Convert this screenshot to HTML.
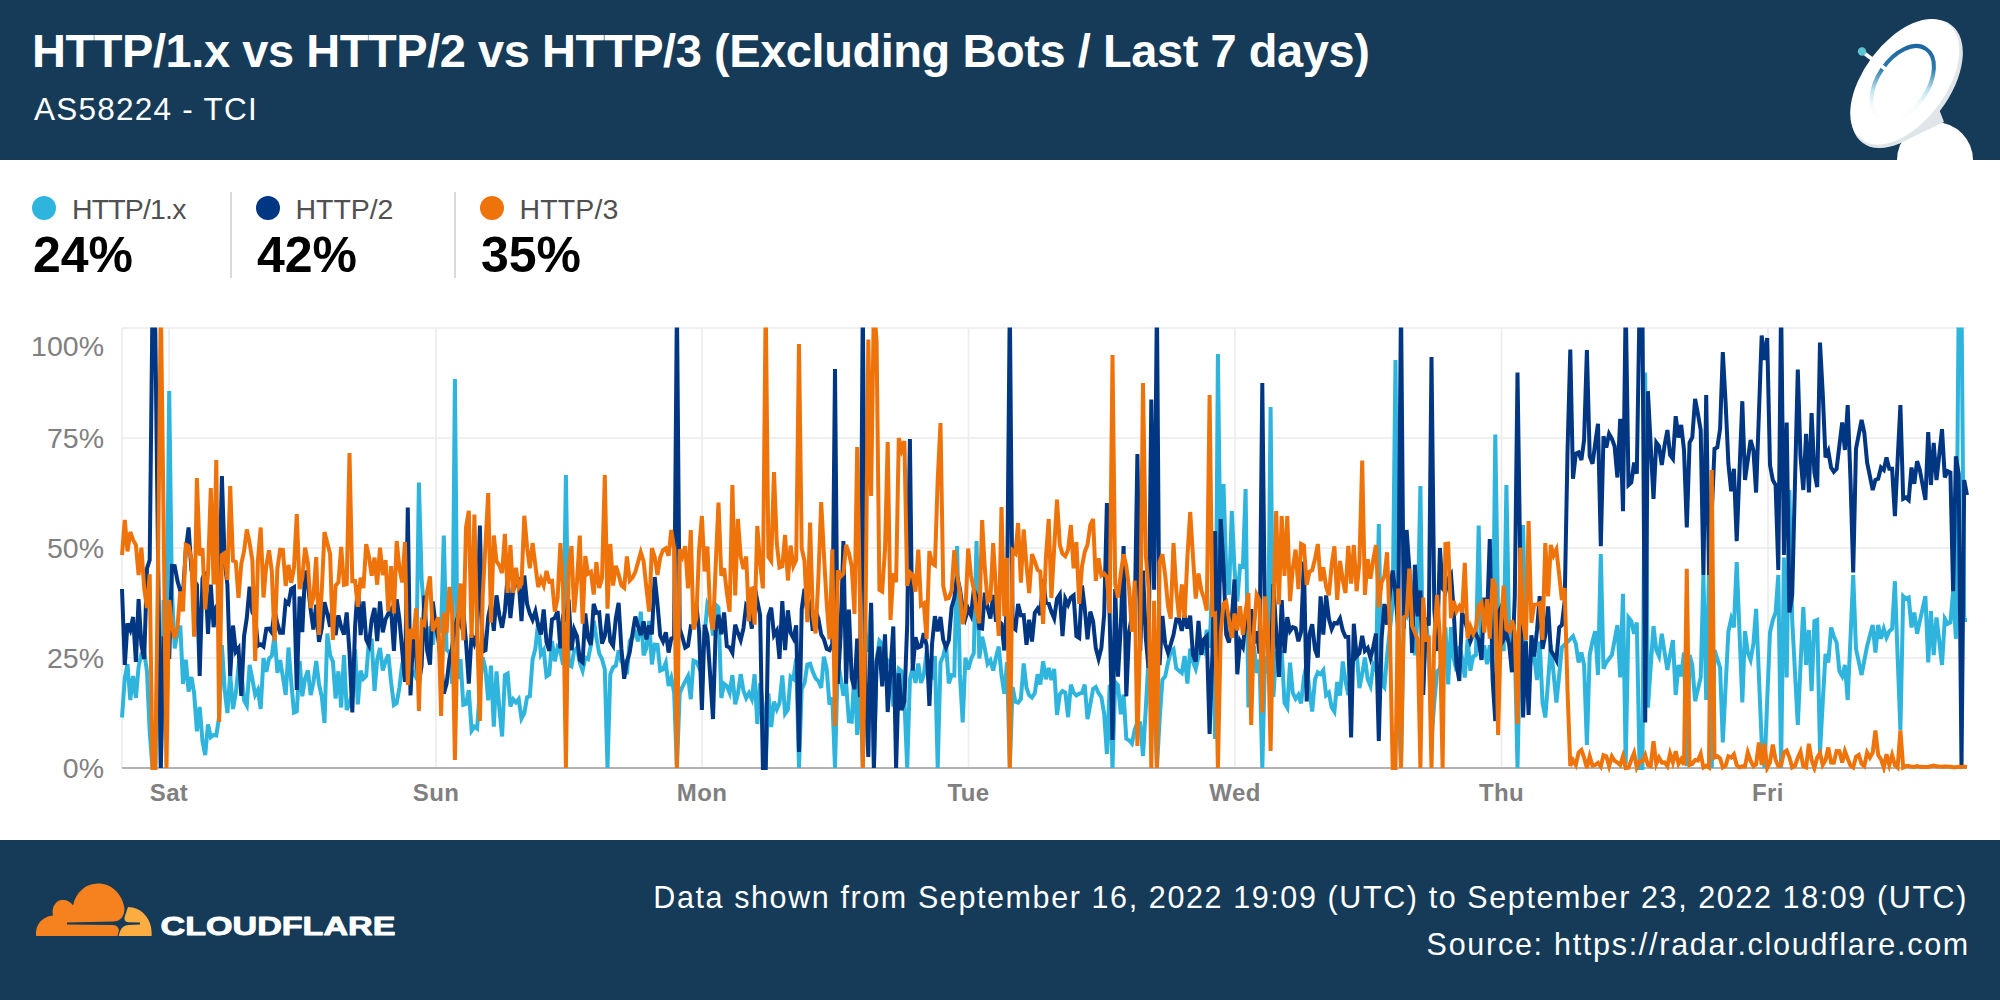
<!DOCTYPE html>
<html lang="en">
<head>
<meta charset="utf-8">
<title>HTTP/1.x vs HTTP/2 vs HTTP/3</title>
<style>
html,body{margin:0;padding:0;}
body{width:2000px;height:1000px;overflow:hidden;background:#fff;font-family:"Liberation Sans",sans-serif;position:relative;}
.abs{position:absolute;white-space:nowrap;line-height:1;}
#hdr{position:absolute;left:0;top:0;width:2000px;height:160px;background:#163b58;overflow:hidden;}
#ftr{position:absolute;left:0;top:840px;width:2000px;height:160px;background:#163b58;overflow:hidden;}
#title{left:32px;top:27px;font-size:47px;letter-spacing:-0.44px;font-weight:bold;color:#fff;transform-origin:0 0;}
#sub{left:34px;top:93.6px;font-size:31.5px;letter-spacing:1.25px;color:#fff;transform-origin:0 0;}
.lg{font-size:28.5px;color:#505050;letter-spacing:-0.85px;transform-origin:0 0;}
.val{font-size:50px;font-weight:bold;color:#000;transform-origin:0 0;}
.dot{position:absolute;width:24px;height:24px;border-radius:50%;}
.dv{position:absolute;width:2px;height:86px;top:192px;background:#d9d9d9;}
.yl{font-size:28.5px;color:#808080;text-align:right;width:90px;left:14px;}
.xl{font-size:24px;letter-spacing:0.4px;font-weight:bold;color:#808080;text-align:center;width:100px;}
.fr{color:#fff;font-size:30.5px;letter-spacing:1.6px;transform-origin:100% 0;right:33px;}
</style>
</head>
<body>
<div id="hdr">
<div id="title" class="abs">HTTP/1.x vs HTTP/2 vs HTTP/3 (Excluding Bots / Last 7 days)</div>
<div id="sub" class="abs">AS58224 - TCI</div>
<svg style="position:absolute;left:1800px;top:0" width="200" height="160" viewBox="1800 0 200 160">
<defs>
<linearGradient id="rg" x1="0" y1="0" x2="0" y2="1">
<stop offset="0" stop-color="#1f66a0"/><stop offset="0.3" stop-color="#2c7aad"/><stop offset="0.6" stop-color="#bfe6ee"/><stop offset="0.78" stop-color="#f4fbfc"/><stop offset="1" stop-color="#ffffff"/>
</linearGradient>
</defs>
<circle cx="1935" cy="160" r="38" fill="#fff"/>
<path d="M1898 144 L1944 122 L1939 109 L1920 128 Z" fill="#dfe5e8"/>
<path d="M1951.3 24.9 A73.7 42.6 -53 1 0 1862.5 142.7 A73.7 42.6 -53 1 0 1951.3 24.9 Z" fill="#dfe5e8"/>
<path d="M1948.1 24.3 A72 40 -53 1 0 1861.5 139.3 A72 40 -53 1 0 1948.1 24.3 Z" fill="#fff"/>
<line x1="1862" y1="51.5" x2="1886" y2="69.500" stroke="#fff" stroke-width="3.8"/>
<circle cx="1862" cy="51.5" r="4.2" fill="#5cc4d2"/>
<path d="M1925.9 48.9 A41.5 24.5 -56 1 0 1879.5 117.7 A41.5 24.5 -56 1 0 1925.9 48.9 Z" fill="none" stroke="url(#rg)" stroke-width="4"/>
<line x1="1880" y1="65" x2="1888.500" y2="71.300" stroke="#fff" stroke-width="3.8"/>
</svg>
</div>

<div class="dot" style="left:32px;top:196px;background:#2fb5dd"></div>
<div class="abs lg" id="l1" style="left:72px;top:195px">HTTP/1.x</div>
<div class="abs val" id="v1" style="left:33px;top:229.500px">24%</div>
<div class="dv" style="left:230px"></div>
<div class="dot" style="left:256px;top:196px;background:#003682"></div>
<div class="abs lg" id="l2" style="left:295.500px;top:195px;letter-spacing:-0.05px">HTTP/2</div>
<div class="abs val" id="v2" style="left:257px;top:229.500px">42%</div>
<div class="dv" style="left:454px"></div>
<div class="dot" style="left:480px;top:196px;background:#ee730a"></div>
<div class="abs lg" id="l3" style="left:519.500px;top:195px;letter-spacing:0.15px">HTTP/3</div>
<div class="abs val" id="v3" style="left:481px;top:229.500px">35%</div>

<div class="abs yl" style="top:332px">100%</div>
<div class="abs yl" style="top:424px">75%</div>
<div class="abs yl" style="top:534px">50%</div>
<div class="abs yl" style="top:644px">25%</div>
<div class="abs yl" style="top:754px">0%</div>

<div class="abs xl" style="left:119px;top:781px">Sat</div>
<div class="abs xl" style="left:386px;top:781px">Sun</div>
<div class="abs xl" style="left:652px;top:781px">Mon</div>
<div class="abs xl" style="left:918.5px;top:781px">Tue</div>
<div class="abs xl" style="left:1185px;top:781px">Wed</div>
<div class="abs xl" style="left:1451.5px;top:781px">Thu</div>
<div class="abs xl" style="left:1718px;top:781px">Fri</div>
<svg style="position:absolute;left:0;top:320px" width="2000" height="460" viewBox="0 320 2000 460">
<defs><clipPath id="cp"><rect x="120" y="327.5" width="1849" height="445.5"/></clipPath></defs>
<g stroke="#ececec" stroke-width="1.6" fill="none">
<path d="M122 328H1967M122 438H1967M122 548H1967M122 658H1967"/>
<path d="M122 328V768M169 328V768M436 328V768M702 328V768M968.5 328V768M1235 328V768M1501.5 328V768M1768 328V768"/>
</g>
<path d="M122 768H1967" stroke="#b3b3b3" stroke-width="2"/>
<g clip-path="url(#cp)" fill="none" stroke-width="4" stroke-linejoin="miter" stroke-miterlimit="4">
<path stroke="#2fb5dd" d="M122.0 717.5L124.8 678.0L127.5 664.1L130.3 700.0L133.1 676.1L135.9 697.9L138.6 666.7L141.4 653.8L144.2 652.0L147.0 671.5L149.7 731.8L152.5 768.0L155.3 768.0L158.1 615.2L160.8 768.0L163.6 600.0L166.4 660.8L169.2 391.0L171.9 591.0L174.7 648.5L177.5 632.4L180.3 625.7L183.0 684.0L185.8 659.6L188.6 691.6L191.4 677.0L194.1 692.8L196.9 731.3L199.7 707.0L202.5 741.5L205.2 755.0L208.0 724.4L210.8 737.2L213.6 735.0L216.3 735.5L219.1 717.0L221.9 645.1L224.7 690.0L227.4 713.0L230.2 674.5L233.0 709.0L235.8 692.9L238.5 666.9L241.3 672.0L244.1 700.4L246.8 705.4L249.6 665.0L252.4 679.4L255.2 695.0L257.9 689.9L260.7 709.0L263.5 658.1L266.3 671.9L269.0 658.8L271.8 655.8L274.6 635.0L277.4 672.9L280.1 660.2L282.9 677.0L285.7 695.0L288.5 647.5L291.2 681.9L294.0 712.5L296.8 711.3L299.6 661.0L302.3 696.3L305.1 678.4L307.9 670.4L310.7 695.0L313.4 682.6L316.2 661.0L319.0 684.1L321.8 696.8L324.5 723.0L327.3 633.6L330.1 655.0L332.9 661.6L335.6 698.5L338.4 671.3L341.2 707.5L344.0 655.0L346.7 710.0L349.5 702.6L352.3 694.5L355.1 649.0L357.8 704.3L360.6 670.7L363.4 678.8L366.2 675.9L368.9 641.0L371.7 640.6L374.5 691.0L377.2 659.5L380.0 647.9L382.8 670.4L385.6 661.0L388.3 654.4L391.1 682.4L393.9 705.0L396.7 703.0L399.4 687.5L402.2 664.3L405.0 655.0L407.8 663.8L410.5 669.8L413.3 672.4L416.1 677.4L418.9 482.5L421.6 578.8L424.4 613.7L427.2 650.5L430.0 626.4L432.7 644.7L435.5 622.7L438.3 629.2L441.1 631.0L443.8 535.5L446.6 649.8L449.4 652.2L452.2 683.7L454.9 379.0L457.7 679.0L460.5 659.2L463.3 704.8L466.0 703.9L468.8 690.2L471.6 730.7L474.4 726.6L477.1 728.6L479.9 689.5L482.7 657.2L485.5 669.2L488.2 700.3L491.0 665.6L493.8 726.7L496.5 671.4L499.3 708.1L502.1 736.5L504.9 675.1L507.6 673.5L510.4 706.4L513.2 699.3L516.0 702.4L518.7 699.1L521.5 718.6L524.3 713.2L527.1 697.2L529.8 696.3L532.6 659.4L535.4 648.5L538.2 622.1L540.9 654.5L543.7 650.0L546.5 676.5L549.3 674.5L552.0 640.9L554.8 661.3L557.6 647.5L560.4 651.4L563.1 664.8L565.9 475.0L568.7 664.8L571.5 666.4L574.2 650.5L577.0 647.8L579.8 662.8L582.6 670.8L585.3 657.6L588.1 659.2L590.9 645.2L593.7 620.9L596.4 637.9L599.2 653.4L602.0 659.1L604.8 669.2L607.5 768.0L610.3 674.4L613.1 667.2L615.8 665.7L618.6 650.4L621.4 661.2L624.2 661.3L626.9 674.4L629.7 641.1L632.5 636.6L635.3 632.5L638.0 641.4L640.8 611.6L643.6 655.4L646.4 648.2L649.1 621.0L651.9 664.4L654.7 644.6L657.5 644.9L660.2 670.6L663.0 669.5L665.8 662.7L668.6 685.9L671.3 677.8L674.1 692.4L676.9 768.0L679.7 693.1L682.4 686.8L685.2 681.4L688.0 676.1L690.8 699.2L693.5 660.6L696.3 661.7L699.1 667.6L701.9 663.5L704.6 634.4L707.4 604.1L710.2 609.5L713.0 635.6L715.7 604.8L718.5 607.7L721.3 698.0L724.1 683.8L726.8 686.0L729.6 692.9L732.4 675.1L735.2 704.2L737.9 693.8L740.7 674.2L743.5 691.0L746.2 698.1L749.0 692.9L751.8 699.0L754.6 674.3L757.3 724.0L760.1 683.5L762.9 707.2L765.7 768.0L768.4 693.3L771.2 727.1L774.0 701.8L776.8 709.4L779.5 703.1L782.3 675.5L785.1 713.7L787.9 709.7L790.6 676.7L793.4 679.0L796.2 658.4L799.0 768.0L801.7 689.2L804.5 683.2L807.3 664.6L810.1 663.8L812.8 671.9L815.6 678.3L818.4 681.1L821.2 687.9L823.9 656.6L826.7 669.1L829.5 704.5L832.3 697.6L835.0 768.0L837.8 661.3L840.6 677.2L843.4 695.8L846.1 683.4L848.9 721.2L851.7 721.7L854.5 671.2L857.2 735.0L860.0 673.3L862.8 768.0L865.5 634.6L868.3 651.7L871.1 605.1L873.9 768.0L876.6 659.2L879.4 640.7L882.2 643.8L885.0 675.1L887.7 660.5L890.5 662.6L893.3 706.5L896.1 690.6L898.8 668.9L901.6 671.3L904.4 700.9L907.2 768.0L909.9 679.6L912.7 667.6L915.5 682.9L918.3 663.5L921.0 682.9L923.8 674.8L926.6 652.6L929.4 673.3L932.1 676.1L934.9 656.0L937.7 768.0L940.5 662.4L943.2 656.2L946.0 643.8L948.8 683.4L951.6 675.2L954.3 675.5L957.1 546.0L959.9 673.9L962.7 722.5L965.4 657.8L968.2 669.6L971.0 659.3L973.8 653.1L976.5 541.0L979.3 658.4L982.1 636.7L984.8 648.4L987.6 664.0L990.4 660.3L993.2 670.6L995.9 657.6L998.7 646.6L1001.5 675.1L1004.3 693.7L1007.0 662.1L1009.8 768.0L1012.6 687.1L1015.4 701.8L1018.1 702.7L1020.9 699.0L1023.7 663.5L1026.5 687.7L1029.2 695.3L1032.0 697.6L1034.8 693.1L1037.6 674.2L1040.3 684.6L1043.1 661.4L1045.9 679.2L1048.7 667.9L1051.4 680.0L1054.2 668.9L1057.0 715.0L1059.8 694.4L1062.5 691.1L1065.3 692.5L1068.1 717.2L1070.9 684.7L1073.6 692.7L1076.4 695.4L1079.2 693.7L1082.0 692.9L1084.7 684.6L1087.5 719.2L1090.3 704.5L1093.1 689.0L1095.8 687.0L1098.6 693.2L1101.4 697.2L1104.2 714.3L1106.9 754.0L1109.7 684.9L1112.5 768.0L1115.2 681.9L1118.0 685.2L1120.8 714.3L1123.6 694.6L1126.3 738.7L1129.1 740.3L1131.9 743.6L1134.7 729.5L1137.4 722.6L1140.2 723.2L1143.0 756.0L1145.8 708.4L1148.5 659.0L1151.3 691.5L1154.1 681.9L1156.9 768.0L1159.6 720.0L1162.4 679.8L1165.2 676.3L1168.0 662.7L1170.7 651.6L1173.5 649.2L1176.3 668.5L1179.1 670.7L1181.8 673.0L1184.6 656.0L1187.4 683.5L1190.2 648.6L1192.9 661.8L1195.7 669.0L1198.5 656.4L1201.3 644.4L1204.0 650.2L1206.8 629.8L1209.6 647.8L1212.4 577.5L1215.1 739.0L1217.9 354.0L1220.7 581.6L1223.5 484.0L1226.2 569.2L1229.0 594.7L1231.8 511.0L1234.5 569.5L1237.3 601.3L1240.1 565.9L1242.9 566.5L1245.6 489.0L1248.4 707.4L1251.2 672.8L1254.0 646.5L1256.7 673.0L1259.5 659.6L1262.3 768.0L1265.1 656.3L1267.8 673.1L1270.6 407.0L1273.4 697.0L1276.2 651.5L1278.9 661.9L1281.7 650.6L1284.5 702.9L1287.3 707.6L1290.0 662.7L1292.8 692.9L1295.6 698.8L1298.4 694.8L1301.1 703.4L1303.9 677.2L1306.7 663.9L1309.5 691.6L1312.2 711.6L1315.0 679.5L1317.8 672.3L1320.6 674.2L1323.3 670.4L1326.1 695.3L1328.9 692.6L1331.7 707.4L1334.4 711.6L1337.2 682.0L1340.0 695.7L1342.8 661.4L1345.5 681.0L1348.3 695.0L1351.1 677.3L1353.8 653.5L1356.6 650.6L1359.4 688.0L1362.2 674.0L1364.9 657.6L1367.7 679.2L1370.5 685.9L1373.3 665.2L1376.0 671.2L1378.8 524.0L1381.6 683.7L1384.4 687.3L1387.1 655.2L1389.9 629.4L1392.7 603.9L1395.5 360.0L1398.2 693.1L1401.0 768.0L1403.8 610.1L1406.6 615.5L1409.3 603.5L1412.1 637.4L1414.9 655.3L1417.7 615.7L1420.4 486.0L1423.2 687.5L1426.0 621.5L1428.8 646.1L1431.5 739.0L1434.3 702.5L1437.1 671.5L1439.9 668.7L1442.6 649.3L1445.4 627.4L1448.2 684.4L1451.0 627.2L1453.7 658.2L1456.5 671.2L1459.3 646.2L1462.1 657.9L1464.8 677.6L1467.6 639.3L1470.4 670.7L1473.2 656.4L1475.9 655.1L1478.7 525.5L1481.5 659.1L1484.2 645.4L1487.0 664.3L1489.8 645.2L1492.6 670.0L1495.3 434.5L1498.1 616.4L1500.9 640.2L1503.7 651.0L1506.4 485.0L1509.2 636.0L1512.0 671.6L1514.8 644.2L1517.5 768.0L1520.3 637.6L1523.1 525.0L1525.9 663.1L1528.6 674.0L1531.4 657.7L1534.2 657.1L1537.0 680.0L1539.7 641.6L1542.5 702.4L1545.3 717.5L1548.1 681.2L1550.8 645.0L1553.6 673.8L1556.4 702.5L1559.2 675.0L1561.9 647.5L1564.7 644.7L1567.5 641.9L1570.3 639.1L1573.0 636.2L1575.8 643.8L1578.6 662.5L1581.4 652.5L1584.1 665.0L1586.9 745.0L1589.7 655.0L1592.5 641.2L1595.2 631.2L1598.0 675.0L1600.8 554.0L1603.5 668.8L1606.3 662.5L1609.1 658.8L1611.9 655.0L1614.6 640.0L1617.4 625.0L1620.2 677.5L1623.0 593.8L1625.7 763.8L1628.5 617.5L1631.3 621.2L1634.1 633.8L1636.8 622.5L1639.6 768.0L1642.4 768.0L1645.2 372.5L1647.9 707.5L1650.7 666.9L1653.5 626.2L1656.3 650.0L1659.0 656.2L1661.8 633.8L1664.6 652.5L1667.4 670.0L1670.1 655.0L1672.9 640.0L1675.7 695.0L1678.5 665.0L1681.2 676.2L1684.0 652.5L1686.8 766.2L1689.6 655.0L1692.3 665.0L1695.1 701.2L1697.9 689.4L1700.7 677.5L1703.4 575.0L1706.2 700.0L1709.0 570.0L1711.8 768.0L1714.5 650.0L1717.3 658.8L1720.1 667.5L1722.8 742.5L1725.6 686.9L1728.4 631.2L1731.2 618.8L1733.9 627.5L1736.7 562.0L1739.5 632.2L1742.3 702.5L1745.0 631.2L1747.8 652.5L1750.6 660.0L1753.4 643.8L1756.1 608.8L1758.9 675.6L1761.7 742.5L1764.5 768.0L1767.2 700.2L1770.0 632.5L1772.8 620.0L1775.6 612.5L1778.3 575.0L1781.1 768.0L1783.9 557.5L1786.7 677.5L1789.4 490.0L1792.2 620.0L1795.0 672.5L1797.8 725.0L1800.5 666.0L1803.3 607.0L1806.1 665.0L1808.9 630.0L1811.6 691.2L1814.4 621.2L1817.2 620.0L1820.0 752.5L1822.7 703.1L1825.5 653.8L1828.3 662.5L1831.1 627.5L1833.8 636.2L1836.6 642.5L1839.4 671.2L1842.2 676.2L1844.9 665.0L1847.7 700.0L1850.5 637.5L1853.2 575.0L1856.0 648.8L1858.8 661.9L1861.6 675.0L1864.3 660.6L1867.1 646.2L1869.9 635.6L1872.7 625.0L1875.4 652.5L1878.2 625.0L1881.0 638.8L1883.8 628.8L1886.5 637.5L1889.3 631.2L1892.1 628.8L1894.9 581.2L1897.6 655.6L1900.4 730.0L1903.2 596.2L1906.0 598.8L1908.7 597.5L1911.5 627.5L1914.3 612.5L1917.1 633.8L1919.8 621.2L1922.6 608.8L1925.4 596.2L1928.2 662.5L1930.9 611.2L1933.7 655.0L1936.5 617.5L1939.3 641.2L1942.0 665.0L1944.8 618.8L1947.6 623.8L1950.4 622.5L1953.1 591.2L1955.9 638.8L1958.7 301.6L1961.5 301.6L1964.2 620.0L1967.0 620.0"/>
<path stroke="#003682" d="M122.0 589.0L124.8 665.0L127.5 623.5L130.3 630.0L133.1 617.0L135.9 662.0L138.6 599.0L141.4 645.1L144.2 659.0L147.0 568.3L149.7 560.0L152.5 301.6L155.3 330.0L158.1 560.0L160.8 768.0L163.6 640.0L166.4 642.4L169.2 659.0L171.9 565.9L174.7 566.2L177.5 581.0L180.3 591.1L183.0 594.1L185.8 550.0L188.6 527.5L191.4 569.9L194.1 580.2L196.9 584.9L199.7 676.0L202.5 578.4L205.2 571.8L208.0 633.8L210.8 584.6L213.6 627.2L216.3 607.0L219.1 602.2L221.9 476.0L224.7 562.1L227.4 584.7L230.2 676.0L233.0 625.5L235.8 651.7L238.5 648.1L241.3 696.0L244.1 636.0L246.8 617.9L249.6 586.8L252.4 612.3L255.2 617.0L257.9 645.8L260.7 644.3L263.5 646.6L266.3 628.8L269.0 628.6L271.8 632.5L274.6 610.6L277.4 623.9L280.1 632.7L282.9 632.8L285.7 601.3L288.5 603.7L291.2 588.9L294.0 587.2L296.8 690.0L299.6 596.5L302.3 632.1L305.1 570.7L307.9 583.8L310.7 610.1L313.4 629.5L316.2 604.7L319.0 641.8L321.8 628.0L324.5 602.2L327.3 613.6L330.1 626.8L332.9 602.7L335.6 635.2L338.4 615.4L341.2 627.2L344.0 634.5L346.7 612.4L349.5 652.5L352.3 712.5L355.1 626.3L357.8 585.2L360.6 635.2L363.4 601.5L366.2 639.7L368.9 645.2L371.7 619.6L374.5 608.0L377.2 641.1L380.0 601.5L382.8 632.3L385.6 619.2L388.3 613.6L391.1 609.4L393.9 650.9L396.7 599.3L399.4 619.0L402.2 650.5L405.0 681.9L407.8 507.5L410.5 695.4L413.3 632.0L416.1 654.7L418.9 682.9L421.6 665.9L424.4 595.6L427.2 650.7L430.0 664.6L432.7 601.6L435.5 623.8L438.3 639.0L441.1 661.2L443.8 693.7L446.6 683.7L449.4 659.3L452.2 647.5L454.9 626.7L457.7 617.5L460.5 624.2L463.3 610.6L466.0 641.9L468.8 683.6L471.6 634.1L474.4 643.4L477.1 634.4L479.9 525.5L482.7 651.6L485.5 650.3L488.2 617.0L491.0 603.5L493.8 630.8L496.5 595.4L499.3 615.4L502.1 627.8L504.9 610.7L507.6 576.7L510.4 618.1L513.2 590.0L516.0 583.5L518.7 580.8L521.5 621.1L524.3 575.5L527.1 604.1L529.8 613.5L532.6 619.8L535.4 611.4L538.2 625.7L540.9 634.5L543.7 609.4L546.5 642.0L549.3 650.9L552.0 619.6L554.8 618.1L557.6 611.1L560.4 648.3L563.1 614.3L565.9 621.4L568.7 599.7L571.5 650.3L574.2 629.6L577.0 636.3L579.8 659.9L582.6 662.3L585.3 613.4L588.1 638.0L590.9 644.9L593.7 603.8L596.4 612.9L599.2 612.4L602.0 643.5L604.8 636.0L607.5 613.8L610.3 641.3L613.1 645.7L615.8 618.5L618.6 602.9L621.4 648.9L624.2 678.8L626.9 661.7L629.7 652.3L632.5 633.9L635.3 616.6L638.0 626.1L640.8 635.2L643.6 621.4L646.4 639.5L649.1 625.3L651.9 634.3L654.7 577.0L657.5 603.9L660.2 635.5L663.0 641.5L665.8 632.3L668.6 652.6L671.3 638.6L674.1 637.3L676.9 301.6L679.7 628.9L682.4 637.3L685.2 647.7L688.0 645.9L690.8 626.3L693.5 626.9L696.3 603.3L699.1 631.9L701.9 710.0L704.6 624.7L707.4 635.3L710.2 675.5L713.0 719.0L715.7 630.0L718.5 614.9L721.3 634.2L724.1 612.5L726.8 646.1L729.6 647.5L732.4 652.7L735.2 624.6L737.9 632.8L740.7 640.1L743.5 628.1L746.2 605.0L749.0 607.9L751.8 628.7L754.6 586.5L757.3 600.7L760.1 614.9L762.9 768.0L765.7 768.0L768.4 616.2L771.2 607.6L774.0 635.2L776.8 630.7L779.5 658.9L782.3 601.1L785.1 650.2L787.9 610.3L790.6 633.0L793.4 638.2L796.2 625.3L799.0 752.0L801.7 609.5L804.5 588.8L807.3 611.8L810.1 605.3L812.8 630.8L815.6 610.7L818.4 618.8L821.2 634.6L823.9 639.1L826.7 648.9L829.5 650.1L832.3 644.2L835.0 369.0L837.8 683.9L840.6 636.0L843.4 541.0L846.1 683.6L848.9 609.6L851.7 678.0L854.5 689.2L857.2 638.5L860.0 697.1L862.8 301.6L865.5 682.2L868.3 757.0L871.1 602.9L873.9 768.0L876.6 661.7L879.4 646.6L882.2 686.3L885.0 634.3L887.7 712.0L890.5 670.4L893.3 626.5L896.1 768.0L898.8 673.3L901.6 710.0L904.4 701.7L907.2 624.1L909.9 439.0L912.7 670.6L915.5 637.2L918.3 647.5L921.0 646.3L923.8 633.1L926.6 645.4L929.4 706.0L932.1 643.3L934.9 616.2L937.7 631.3L940.5 616.9L943.2 639.7L946.0 647.6L948.8 640.4L951.6 607.3L954.3 598.1L957.1 576.5L959.9 588.8L962.7 608.3L965.4 618.3L968.2 608.8L971.0 615.2L973.8 589.7L976.5 596.2L979.3 628.1L982.1 628.6L984.8 592.7L987.6 607.7L990.4 618.6L993.2 594.9L995.9 620.1L998.7 620.7L1001.5 623.9L1004.3 650.5L1007.0 603.7L1009.8 301.6L1012.6 627.3L1015.4 629.5L1018.1 604.0L1020.9 615.4L1023.7 615.1L1026.5 644.7L1029.2 619.8L1032.0 641.6L1034.8 612.6L1037.6 608.6L1040.3 615.0L1043.1 579.5L1045.9 602.5L1048.7 603.6L1051.4 611.7L1054.2 618.3L1057.0 598.7L1059.8 594.4L1062.5 636.0L1065.3 598.9L1068.1 604.7L1070.9 597.4L1073.6 595.4L1076.4 636.1L1079.2 637.9L1082.0 585.6L1084.7 607.9L1087.5 639.4L1090.3 611.6L1093.1 621.3L1095.8 648.2L1098.6 658.7L1101.4 647.7L1104.2 613.8L1106.9 503.0L1109.7 618.3L1112.5 740.0L1115.2 589.0L1118.0 676.6L1120.8 626.2L1123.6 546.0L1126.3 696.4L1129.1 631.9L1131.9 615.9L1134.7 619.0L1137.4 454.0L1140.2 651.1L1143.0 570.6L1145.8 637.8L1148.5 667.8L1151.3 399.5L1154.1 589.7L1156.9 301.6L1159.6 665.1L1162.4 616.0L1165.2 643.8L1168.0 652.7L1170.7 644.4L1173.5 634.8L1176.3 619.4L1179.1 619.5L1181.8 630.8L1184.6 615.2L1187.4 628.5L1190.2 615.6L1192.9 654.6L1195.7 661.5L1198.5 621.0L1201.3 654.9L1204.0 639.2L1206.8 636.2L1209.6 734.0L1212.4 654.4L1215.1 531.0L1217.9 689.4L1220.7 519.0L1223.5 566.1L1226.2 634.6L1229.0 642.5L1231.8 618.5L1234.5 579.5L1237.3 674.3L1240.1 641.5L1242.9 646.9L1245.6 621.5L1248.4 627.4L1251.2 609.2L1254.0 643.2L1256.7 631.2L1259.5 653.6L1262.3 383.0L1265.1 638.6L1267.8 637.0L1270.6 670.6L1273.4 584.0L1276.2 631.3L1278.9 677.0L1281.7 600.0L1284.5 653.0L1287.3 617.1L1290.0 631.1L1292.8 627.2L1295.6 628.2L1298.4 641.3L1301.1 631.9L1303.9 561.7L1306.7 701.5L1309.5 634.0L1312.2 624.2L1315.0 649.3L1317.8 657.4L1320.6 596.4L1323.3 634.6L1326.1 595.5L1328.9 618.6L1331.7 629.0L1334.4 623.0L1337.2 623.5L1340.0 618.5L1342.8 630.6L1345.5 636.9L1348.3 637.0L1351.1 737.5L1353.8 623.7L1356.6 656.3L1359.4 653.1L1362.2 635.9L1364.9 650.9L1367.7 648.0L1370.5 657.9L1373.3 646.7L1376.0 633.6L1378.8 741.0L1381.6 638.4L1384.4 603.9L1387.1 624.7L1389.9 592.4L1392.7 570.6L1395.5 593.3L1398.2 628.3L1401.0 301.6L1403.8 628.5L1406.6 530.0L1409.3 567.7L1412.1 652.9L1414.9 564.7L1417.7 616.4L1420.4 590.5L1423.2 695.0L1426.0 617.5L1428.8 625.6L1431.5 357.0L1434.3 608.9L1437.1 651.0L1439.9 548.0L1442.6 588.5L1445.4 591.9L1448.2 578.7L1451.0 574.3L1453.7 610.7L1456.5 664.2L1459.3 680.8L1462.1 612.9L1464.8 619.4L1467.6 630.7L1470.4 641.3L1473.2 634.3L1475.9 633.7L1478.7 640.1L1481.5 659.9L1484.2 597.7L1487.0 619.1L1489.8 539.0L1492.6 679.1L1495.3 721.0L1498.1 613.8L1500.9 607.7L1503.7 639.2L1506.4 633.6L1509.2 644.8L1512.0 672.3L1514.8 596.0L1517.5 372.5L1520.3 566.6L1523.1 717.5L1525.9 641.4L1528.6 715.0L1531.4 635.2L1534.2 656.6L1537.0 630.0L1539.7 596.2L1542.5 648.9L1545.3 635.2L1548.1 606.4L1550.8 650.5L1553.6 654.9L1556.4 660.3L1559.2 627.5L1561.9 625.0L1564.7 600.8L1567.5 452.2L1570.3 349.5L1573.0 478.8L1575.8 453.7L1578.6 452.5L1581.4 460.0L1584.1 440.0L1586.9 350.0L1589.7 456.2L1592.5 463.8L1595.2 443.8L1598.0 423.8L1600.8 546.2L1603.5 436.2L1606.3 447.5L1609.1 433.8L1611.9 438.8L1614.6 446.2L1617.4 477.5L1620.2 418.8L1623.0 511.2L1625.7 301.6L1628.5 485.0L1631.3 482.5L1634.1 462.5L1636.8 473.8L1639.6 301.6L1642.4 301.6L1645.2 722.5L1647.9 391.2L1650.7 445.0L1653.5 498.8L1656.3 442.5L1659.0 446.2L1661.8 465.0L1664.6 445.0L1667.4 430.0L1670.1 455.0L1672.9 458.8L1675.7 416.2L1678.5 437.5L1681.2 425.0L1684.0 450.0L1686.8 527.5L1689.6 442.5L1692.3 437.5L1695.1 398.8L1697.9 413.8L1700.7 430.0L1703.4 575.0L1706.2 395.0L1709.0 575.0L1711.8 511.9L1714.5 448.8L1717.3 447.5L1720.1 428.8L1722.8 352.0L1725.6 402.5L1728.4 463.8L1731.2 491.2L1733.9 468.8L1736.7 541.2L1739.5 471.2L1742.3 401.2L1745.0 480.0L1747.8 460.0L1750.6 440.0L1753.4 450.0L1756.1 492.5L1758.9 414.0L1761.7 335.5L1764.5 360.0L1767.2 338.0L1770.0 465.0L1772.8 480.0L1775.6 485.0L1778.3 570.0L1781.1 301.6L1783.9 555.0L1786.7 422.5L1789.4 612.5L1792.2 595.0L1795.0 482.2L1797.8 369.5L1800.5 456.2L1803.3 490.0L1806.1 433.8L1808.9 492.5L1811.6 413.0L1814.4 472.5L1817.2 487.0L1820.0 342.5L1822.7 392.5L1825.5 457.5L1828.3 451.2L1831.1 467.5L1833.8 471.8L1836.6 468.8L1839.4 445.6L1842.2 422.5L1844.9 450.0L1847.7 405.0L1850.5 480.0L1853.2 572.5L1856.0 448.8L1858.8 434.4L1861.6 420.0L1864.3 432.5L1867.1 462.5L1869.9 476.2L1872.7 490.0L1875.4 480.0L1878.2 478.8L1881.0 467.5L1883.8 470.0L1886.5 457.5L1889.3 468.8L1892.1 468.8L1894.9 516.2L1897.6 460.6L1900.4 405.0L1903.2 498.8L1906.0 497.5L1908.7 500.0L1911.5 467.5L1914.3 483.8L1917.1 461.2L1919.8 470.0L1922.6 485.0L1925.4 500.0L1928.2 432.0L1930.9 485.0L1933.7 443.0L1936.5 480.0L1939.3 454.6L1942.0 429.2L1944.8 477.5L1947.6 471.2L1950.4 472.5L1953.1 591.2L1955.9 456.2L1958.7 473.8L1961.5 768.0L1964.2 480.0L1967.0 495.0"/>
<path stroke="#ee730a" d="M122.0 555.0L124.8 520.0L127.5 551.4L130.3 532.0L133.1 540.0L135.9 545.0L138.6 575.0L141.4 547.6L144.2 588.4L147.0 608.0L149.7 574.2L152.5 768.0L155.3 768.0L158.1 560.0L160.8 301.6L163.6 520.0L166.4 768.0L169.2 600.0L171.9 626.2L174.7 638.4L177.5 626.6L180.3 591.5L183.0 611.5L185.8 544.7L188.6 546.2L191.4 559.1L194.1 636.6L196.9 478.0L199.7 555.5L202.5 548.3L205.2 609.4L208.0 573.1L210.8 488.0L213.6 584.5L216.3 460.0L219.1 722.0L221.9 555.0L224.7 553.1L227.4 580.0L230.2 486.0L233.0 560.7L235.8 561.9L238.5 597.8L241.3 563.7L244.1 551.0L246.8 529.5L249.6 542.9L252.4 560.4L255.2 661.0L257.9 560.6L260.7 527.5L263.5 597.5L266.3 565.4L269.0 550.3L271.8 571.2L274.6 641.0L277.4 568.7L280.1 549.8L282.9 550.1L285.7 585.9L288.5 564.9L291.2 582.8L294.0 567.7L296.8 514.0L299.6 589.1L302.3 578.1L305.1 547.6L307.9 562.9L310.7 608.0L313.4 597.2L316.2 557.1L319.0 635.0L321.8 590.0L324.5 532.0L327.3 542.9L330.1 553.9L332.9 640.0L335.6 585.5L338.4 582.4L341.2 547.0L344.0 584.9L346.7 584.1L349.5 453.0L352.3 581.2L355.1 581.1L357.8 606.7L360.6 577.6L363.4 588.1L366.2 544.2L368.9 556.3L371.7 575.7L374.5 557.6L377.2 584.7L380.0 547.6L382.8 575.1L385.6 560.2L388.3 611.5L391.1 566.0L393.9 613.3L396.7 541.0L399.4 568.2L402.2 582.3L405.0 542.0L407.8 685.0L410.5 628.9L413.3 638.9L416.1 608.4L418.9 711.0L421.6 621.6L424.4 624.5L427.2 591.3L430.0 576.3L432.7 631.1L435.5 623.6L438.3 617.2L441.1 716.0L443.8 612.8L446.6 633.0L449.4 586.9L452.2 613.3L454.9 760.0L457.7 622.6L460.5 583.5L463.3 640.3L466.0 527.5L468.8 510.8L471.6 637.9L474.4 514.5L477.1 629.4L479.9 721.0L482.7 595.9L485.5 544.1L488.2 493.0L491.0 622.7L493.8 535.5L496.5 561.2L499.3 565.3L502.1 573.2L504.9 533.8L507.6 592.8L510.4 545.0L513.2 592.8L516.0 567.7L518.7 587.7L521.5 584.0L524.3 515.8L527.1 547.4L529.8 568.2L532.6 543.1L535.4 565.5L538.2 587.1L540.9 578.8L543.7 585.6L546.5 571.0L549.3 581.7L552.0 580.9L554.8 611.5L557.6 598.0L560.4 543.0L563.1 590.7L565.9 768.0L568.7 566.4L571.5 546.1L574.2 612.4L577.0 581.7L579.8 535.5L582.6 623.6L585.3 556.0L588.1 573.6L590.9 571.8L593.7 594.5L596.4 562.1L599.2 588.0L602.0 578.2L604.8 475.0L607.5 608.7L610.3 544.0L613.1 585.6L615.8 565.8L618.6 574.4L621.4 585.4L624.2 587.8L626.9 556.4L629.7 580.5L632.5 577.5L635.3 572.1L638.0 562.4L640.8 552.3L643.6 561.1L646.4 587.7L649.1 611.6L651.9 548.2L654.7 557.0L657.5 574.9L660.2 557.5L663.0 550.0L665.8 548.2L668.6 555.7L671.3 530.0L674.1 548.6L676.9 768.0L679.7 549.3L682.4 556.5L685.2 546.2L688.0 588.3L690.8 530.0L693.5 629.5L696.3 618.5L699.1 549.9L701.9 516.0L704.6 571.5L707.4 546.5L710.2 613.9L713.0 630.0L715.7 565.1L718.5 502.5L721.3 575.7L724.1 568.1L726.8 592.5L729.6 611.6L732.4 485.0L735.2 595.5L737.9 519.0L740.7 556.4L743.5 569.0L746.2 556.5L749.0 621.3L751.8 587.0L754.6 624.6L757.3 526.0L760.1 562.9L762.9 588.4L765.7 301.6L768.4 556.8L771.2 561.0L774.0 472.0L776.8 543.5L779.5 567.4L782.3 566.4L785.1 535.0L787.9 580.5L790.6 545.6L793.4 566.0L796.2 559.7L799.0 344.0L801.7 548.3L804.5 561.0L807.3 622.1L810.1 522.5L812.8 615.5L815.6 633.5L818.4 577.8L821.2 502.0L823.9 554.0L826.7 603.4L829.5 639.3L832.3 549.4L835.0 726.0L837.8 570.2L840.6 576.6L843.4 573.6L846.1 544.9L848.9 553.1L851.7 566.2L854.5 614.0L857.2 447.0L860.0 600.6L862.8 768.0L865.5 621.7L868.3 339.5L871.1 496.0L873.9 301.6L876.6 342.0L879.4 589.9L882.2 591.6L885.0 549.2L887.7 442.0L890.5 619.9L893.3 573.3L896.1 582.1L898.8 438.0L901.6 450.0L904.4 441.0L907.2 585.9L909.9 572.5L912.7 575.1L915.5 591.6L918.3 549.7L921.0 605.3L923.8 603.4L926.6 638.9L929.4 551.1L932.1 563.3L934.9 565.2L937.7 480.0L940.5 423.0L943.2 585.8L946.0 598.7L948.8 598.0L951.6 590.8L954.3 550.1L957.1 574.5L959.9 592.7L962.7 624.2L965.4 610.4L968.2 548.5L971.0 575.8L973.8 589.3L976.5 610.9L979.3 623.2L982.1 520.0L984.8 568.0L987.6 601.7L990.4 598.8L993.2 543.0L995.9 589.3L998.7 636.0L1001.5 507.0L1004.3 616.1L1007.0 557.9L1009.8 768.0L1012.6 550.6L1015.4 553.4L1018.1 523.0L1020.9 582.6L1023.7 529.5L1026.5 565.4L1029.2 593.1L1032.0 554.2L1034.8 561.4L1037.6 569.9L1040.3 571.4L1043.1 624.0L1045.9 558.2L1048.7 519.0L1051.4 598.0L1054.2 547.9L1057.0 499.5L1059.8 544.8L1062.5 553.8L1065.3 556.2L1068.1 549.8L1070.9 525.0L1073.6 568.3L1076.4 542.0L1079.2 603.9L1082.0 566.4L1084.7 552.1L1087.5 544.8L1090.3 525.0L1093.1 519.0L1095.8 580.8L1098.6 558.3L1101.4 575.5L1104.2 573.6L1106.9 577.0L1109.7 613.2L1112.5 355.0L1115.2 584.4L1118.0 597.5L1120.8 573.3L1123.6 554.2L1126.3 566.3L1129.1 588.6L1131.9 631.8L1134.7 580.6L1137.4 746.0L1140.2 635.9L1143.0 383.0L1145.8 555.4L1148.5 587.7L1151.3 768.0L1154.1 600.9L1156.9 768.0L1159.6 561.8L1162.4 554.3L1165.2 575.5L1168.0 606.0L1170.7 618.6L1173.5 543.0L1176.3 590.6L1179.1 617.8L1181.8 584.3L1184.6 617.9L1187.4 557.1L1190.2 512.0L1192.9 555.1L1195.7 598.5L1198.5 573.5L1201.3 590.3L1204.0 598.4L1206.8 610.5L1209.6 395.0L1212.4 614.9L1215.1 613.6L1217.9 768.0L1220.7 633.4L1223.5 603.8L1226.2 601.7L1229.0 619.7L1231.8 637.9L1234.5 613.5L1237.3 630.4L1240.1 606.3L1242.9 634.7L1245.6 610.8L1248.4 593.0L1251.2 725.0L1254.0 627.4L1256.7 594.7L1259.5 600.1L1262.3 712.5L1265.1 596.3L1267.8 628.7L1270.6 751.0L1273.4 609.7L1276.2 511.0L1278.9 604.5L1281.7 516.0L1284.5 575.9L1287.3 516.0L1290.0 601.2L1292.8 568.3L1295.6 549.6L1298.4 589.1L1301.1 544.0L1303.9 545.5L1306.7 584.8L1309.5 571.9L1312.2 570.3L1315.0 559.1L1317.8 544.0L1320.6 581.2L1323.3 567.3L1326.1 586.8L1328.9 595.3L1331.7 564.7L1334.4 546.4L1337.2 599.9L1340.0 561.0L1342.8 580.1L1345.5 593.0L1348.3 545.9L1351.1 583.5L1353.8 545.0L1356.6 591.2L1359.4 562.6L1362.2 460.5L1364.9 594.9L1367.7 559.2L1370.5 578.7L1373.3 559.3L1376.0 545.0L1378.8 607.3L1381.6 582.3L1384.4 576.2L1387.1 552.3L1389.9 632.5L1392.7 768.0L1395.5 768.0L1398.2 588.5L1401.0 768.0L1403.8 617.2L1406.6 615.3L1409.3 568.6L1412.1 625.9L1414.9 632.8L1417.7 639.5L1420.4 768.0L1423.2 597.6L1426.0 639.2L1428.8 638.0L1431.5 768.0L1434.3 636.8L1437.1 594.8L1439.9 637.6L1442.6 768.0L1445.4 544.0L1448.2 543.6L1451.0 618.3L1453.7 600.9L1456.5 611.3L1459.3 606.4L1462.1 612.4L1464.8 562.9L1467.6 638.5L1470.4 626.4L1473.2 633.9L1475.9 627.9L1478.7 605.7L1481.5 602.6L1484.2 632.6L1487.0 599.1L1489.8 638.7L1492.6 578.7L1495.3 586.1L1498.1 735.0L1500.9 626.3L1503.7 585.7L1506.4 629.1L1509.2 631.5L1512.0 620.3L1514.8 631.9L1517.5 724.0L1520.3 547.5L1523.1 623.1L1525.9 640.0L1528.6 521.0L1531.4 622.7L1534.2 604.8L1537.0 604.4L1539.7 603.2L1542.5 639.9L1545.3 543.0L1548.1 596.3L1550.8 544.9L1553.6 555.4L1556.4 549.5L1559.2 575.0L1561.9 600.0L1564.7 588.0L1567.5 690.0L1570.3 766.0L1573.0 760.1L1575.8 765.0L1578.6 752.5L1581.4 750.0L1584.1 757.7L1586.9 768.0L1589.7 756.2L1592.5 765.8L1595.2 765.0L1598.0 762.8L1600.8 766.6L1603.5 755.2L1606.3 756.2L1609.1 766.2L1611.9 756.4L1614.6 760.7L1617.4 762.5L1620.2 765.0L1623.0 756.2L1625.7 768.0L1628.5 767.6L1631.3 760.0L1634.1 752.9L1636.8 767.5L1639.6 761.5L1642.4 761.5L1645.2 755.2L1647.9 765.0L1650.7 766.1L1653.5 741.2L1656.3 763.8L1659.0 757.5L1661.8 762.7L1664.6 762.4L1667.4 766.2L1670.1 753.8L1672.9 762.5L1675.7 751.2L1678.5 763.8L1681.2 759.2L1684.0 765.0L1686.8 568.8L1689.6 765.0L1692.3 763.8L1695.1 760.0L1697.9 760.5L1700.7 753.8L1703.4 767.5L1706.2 765.6L1709.0 767.5L1711.8 470.0L1714.5 757.5L1717.3 756.1L1720.1 758.5L1722.8 767.5L1725.6 765.7L1728.4 756.3L1731.2 757.5L1733.9 754.3L1736.7 765.0L1739.5 767.3L1742.3 766.3L1745.0 766.4L1747.8 752.5L1750.6 760.7L1753.4 766.2L1756.1 764.3L1758.9 742.5L1761.7 765.0L1764.5 743.8L1767.2 768.0L1770.0 762.5L1772.8 744.6L1775.6 759.7L1778.3 766.2L1781.1 765.4L1783.9 752.5L1786.7 750.5L1789.4 757.3L1792.2 767.5L1795.0 765.8L1797.8 757.7L1800.5 751.7L1803.3 766.2L1806.1 767.4L1808.9 743.8L1811.6 760.0L1814.4 768.0L1817.2 757.5L1820.0 753.0L1822.7 765.0L1825.5 760.3L1828.3 747.5L1831.1 762.5L1833.8 762.7L1836.6 751.1L1839.4 751.2L1842.2 762.5L1844.9 751.2L1847.7 758.8L1850.5 765.5L1853.2 767.5L1856.0 756.7L1858.8 754.8L1861.6 763.8L1864.3 766.1L1867.1 752.5L1869.9 757.6L1872.7 752.5L1875.4 730.5L1878.2 755.0L1881.0 759.3L1883.8 767.5L1886.5 754.2L1889.3 765.0L1892.1 754.9L1894.9 765.1L1897.6 767.5L1900.4 730.5L1903.2 767.5L1906.0 765.9L1908.7 766.0L1911.5 766.8L1914.3 766.9L1917.1 766.0L1919.8 766.8L1922.6 767.1L1925.4 766.9L1928.2 766.9L1930.9 766.2L1933.7 765.5L1936.5 766.3L1939.3 766.6L1942.0 766.8L1944.8 766.4L1947.6 766.6L1950.4 766.7L1953.1 767.3L1955.9 767.2L1958.7 766.8L1961.5 766.9L1964.2 766.5L1967.0 767.1"/>
</g>
</svg>
<div id="ftr">
<svg style="position:absolute;left:0;top:0" width="420" height="160" viewBox="0 840 420 160">
<path d="M36 936 L36 932 C37 922 44.5 916.5 53 915.6 C51 908 55.5 900 62.5 900 C67 900 71 902 73 905.5 C76 892 86 883.6 98 883.6 C111.5 883.6 122.5 894 124.5 908.5 C124.5 912 123.5 915.5 121.5 918 C119.5 920.5 116.5 921.5 113 921.6 L67 922.4 L67 924.6 L113 925 C117.5 925.5 119.8 928.5 118.6 932 L117.5 936 Z" fill="#f6821f"/>
<path d="M128 907 C141 907 151.600 918.500 151.600 932 L151.600 936 L118.600 936 L120 931.500 C121.5 927.500 124.500 925.300 128.500 925 L140 924.400 L140 922.600 L128.500 922.200 C125 922 123.800 919.500 124.800 916.500 Z" fill="#fbad41"/>
<text x="160.500" y="935.4" font-family="'Liberation Sans',sans-serif" font-weight="bold" font-size="26.5" fill="#fff" stroke="#fff" stroke-width="0.9" stroke-linejoin="round" textLength="235" lengthAdjust="spacingAndGlyphs">CLOUDFLARE</text>
</svg>
<div class="abs fr" id="f1" style="top:42px;right:32px">Data shown from September 16, 2022 19:09 (UTC) to September 23, 2022 18:09 (UTC)</div>
<div class="abs fr" id="f2" style="top:88.800px;right:30px;letter-spacing:1.72px">Source: https://radar.cloudflare.com</div>
</div>
</body>
</html>
